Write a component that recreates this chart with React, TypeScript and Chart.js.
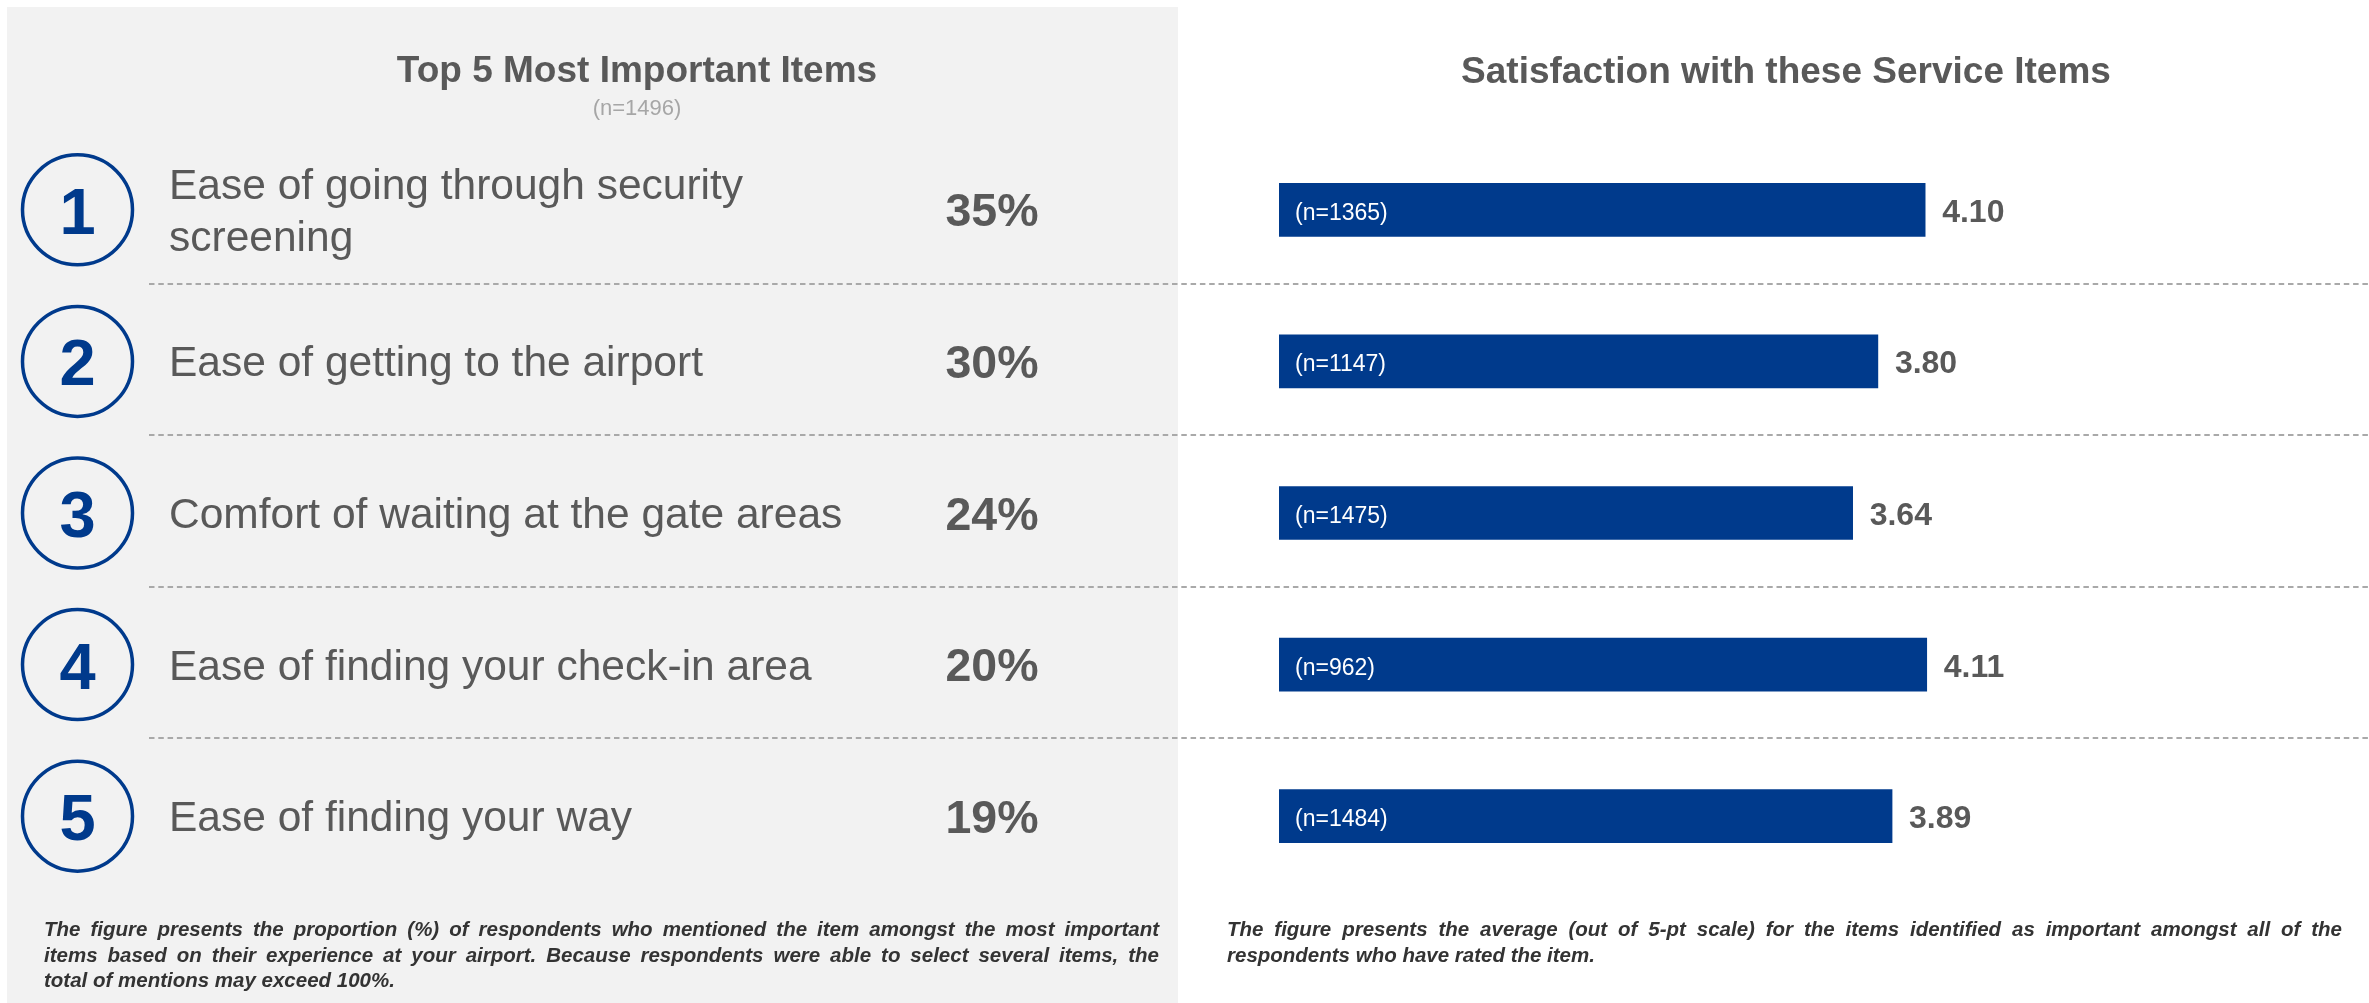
import React, { useEffect, useRef } from "react";
import { Chart, registerables } from "chart.js";

Chart.register(...registerables);

// ---------- data ----------
const ranks = ["1", "2", "3", "4", "5"];
const items = [
  "Ease of going through security\nscreening",
  "Ease of getting to the airport",
  "Comfort of waiting at the gate areas",
  "Ease of finding your check-in area",
  "Ease of finding your way",
];
const importancePct = [35, 30, 24, 20, 19];
const importanceN = 1496;
const satisfactionScores = [4.1, 3.8, 3.64, 4.11, 3.89];
const satisfactionN = [1365, 1147, 1475, 962, 1484];
const leftTitle = "Top 5 Most Important Items";
const rightTitle = "Satisfaction with these Service Items";
const leftNote = [
  "The figure presents the proportion (%) of respondents who mentioned the item amongst the most important",
  "items based on their experience at your airport. Because respondents were able to select several items, the",
  "total of mentions may exceed 100%.",
];
const rightNote = [
  "The figure presents the average (out of 5-pt scale) for the items identified as important amongst all of the",
  "respondents who have rated the item.",
];

// ---------- styling ----------
const W = 2369;
const H = 1003;
const FONT = "'Liberation Sans', Arial, Helvetica, sans-serif";
const BLUE = "#003a8c";
const GRAY_TEXT = "#595959";

function drawJustified(ctx: CanvasRenderingContext2D, lines: string[], x: number, width: number, baselines: number[]) {
  lines.forEach((line, li) => {
    const yb = baselines[li];
    if (li === lines.length - 1) {
      ctx.fillText(line, x, yb);
      return;
    }
    const words = line.split(" ");
    const wordsW = words.reduce((s, w) => s + ctx.measureText(w).width, 0);
    const gap = (width - wordsW) / Math.max(1, words.length - 1);
    let cx = x;
    words.forEach((w) => {
      ctx.fillText(w, cx, yb);
      cx += ctx.measureText(w).width + gap;
    });
  });
}

const layoutPlugin = {
  id: "layoutPlugin",
  beforeDraw(chart: any) {
    const ctx: CanvasRenderingContext2D = chart.ctx;
    const yScale = chart.scales.y;
    ctx.save();
    ctx.fillStyle = "#ffffff";
    ctx.fillRect(0, 0, W, H);
    ctx.fillStyle = "#f2f2f2";
    ctx.fillRect(7, 7, 1171, H - 7);

    // titles
    ctx.textBaseline = "alphabetic";
    ctx.textAlign = "center";
    ctx.fillStyle = GRAY_TEXT;
    ctx.font = `bold 37px ${FONT}`;
    ctx.fillText(leftTitle, 637, 82);
    ctx.fillText(rightTitle, 1786, 83);
    ctx.fillStyle = "#a6a6a6";
    ctx.font = `22px ${FONT}`;
    ctx.fillText(`(n=${importanceN})`, 637, 115);

    // separators
    ctx.strokeStyle = "#a9a9a9";
    ctx.lineWidth = 2;
    ctx.setLineDash([5.5, 3.8]);
    for (let i = 0; i < items.length - 1; i++) {
      const yy = Math.round((yScale.getPixelForValue(i) + yScale.getPixelForValue(i + 1)) / 2) - 2;
      ctx.beginPath();
      ctx.moveTo(149, yy);
      ctx.lineTo(W, yy);
      ctx.stroke();
    }
    ctx.setLineDash([]);

    // rows of the left panel
    for (let i = 0; i < items.length; i++) {
      const cy = yScale.getPixelForValue(i);
      ctx.beginPath();
      ctx.strokeStyle = BLUE;
      ctx.lineWidth = 3.5;
      ctx.arc(77.5, cy, 55, 0, Math.PI * 2);
      ctx.stroke();

      ctx.fillStyle = BLUE;
      ctx.textAlign = "center";
      ctx.font = `bold 65px ${FONT}`;
      ctx.fillText(ranks[i], 77.5, cy + 24);

      ctx.fillStyle = GRAY_TEXT;
      ctx.textAlign = "left";
      ctx.font = `42.5px ${FONT}`;
      const lines = items[i].split("\n");
      const lh = 52;
      const first = cy + 15 - ((lines.length - 1) * lh) / 2;
      lines.forEach((ln, k) => ctx.fillText(ln, 169, first + k * lh));

      ctx.textAlign = "center";
      ctx.font = `bold 46.5px ${FONT}`;
      ctx.fillText(`${importancePct[i]}%`, 992, cy + 16.5);
    }

    // footnotes
    ctx.fillStyle = "#333333";
    ctx.textAlign = "left";
    ctx.font = `italic bold 20.5px ${FONT}`;
    drawJustified(ctx, leftNote, 44, 1115, [936, 962, 987]);
    drawJustified(ctx, rightNote, 1227, 1115, [936, 962]);
    ctx.restore();
  },
  afterDatasetsDraw(chart: any) {
    const ctx: CanvasRenderingContext2D = chart.ctx;
    const meta = chart.getDatasetMeta(0);
    ctx.save();
    ctx.textBaseline = "alphabetic";
    ctx.textAlign = "left";
    meta.data.forEach((bar: any, i: number) => {
      const { x, y, base } = bar.getProps(["x", "y", "base"], true);
      ctx.fillStyle = "#ffffff";
      ctx.font = `23px ${FONT}`;
      ctx.fillText(`(n=${satisfactionN[i]})`, base + 16, y + 10);
      ctx.fillStyle = GRAY_TEXT;
      ctx.font = `bold 32px ${FONT}`;
      ctx.fillText(satisfactionScores[i].toFixed(2), x + 17, y + 12);
    });
    ctx.restore();
  },
};

export default function App() {
  const canvasRef = useRef<HTMLCanvasElement | null>(null);

  useEffect(() => {
    if (!canvasRef.current) return;
    const chart = new Chart(canvasRef.current, {
      type: "bar",
      data: {
        labels: items,
        datasets: [
          {
            data: satisfactionScores,
            backgroundColor: BLUE,
            borderWidth: 0,
            barThickness: 53,
          },
        ],
      },
      options: {
        indexAxis: "y",
        responsive: false,
        animation: false,
        devicePixelRatio: 1,
        layout: { padding: { left: 1279, right: 302, top: 134, bottom: 111 } },
        scales: {
          x: { display: false, min: 0, max: 5 },
          y: { display: false },
        },
        plugins: {
          legend: { display: false },
          tooltip: { enabled: false },
          title: { display: false },
        },
      },
      plugins: [layoutPlugin],
    } as any);
    return () => chart.destroy();
  }, []);

  return (
    <div style={{ position: "fixed", left: 0, top: 0, width: W, height: H, background: "#fff" }}>
      <canvas ref={canvasRef} width={W} height={H} style={{ display: "block", width: W, height: H }} />
    </div>
  );
}
